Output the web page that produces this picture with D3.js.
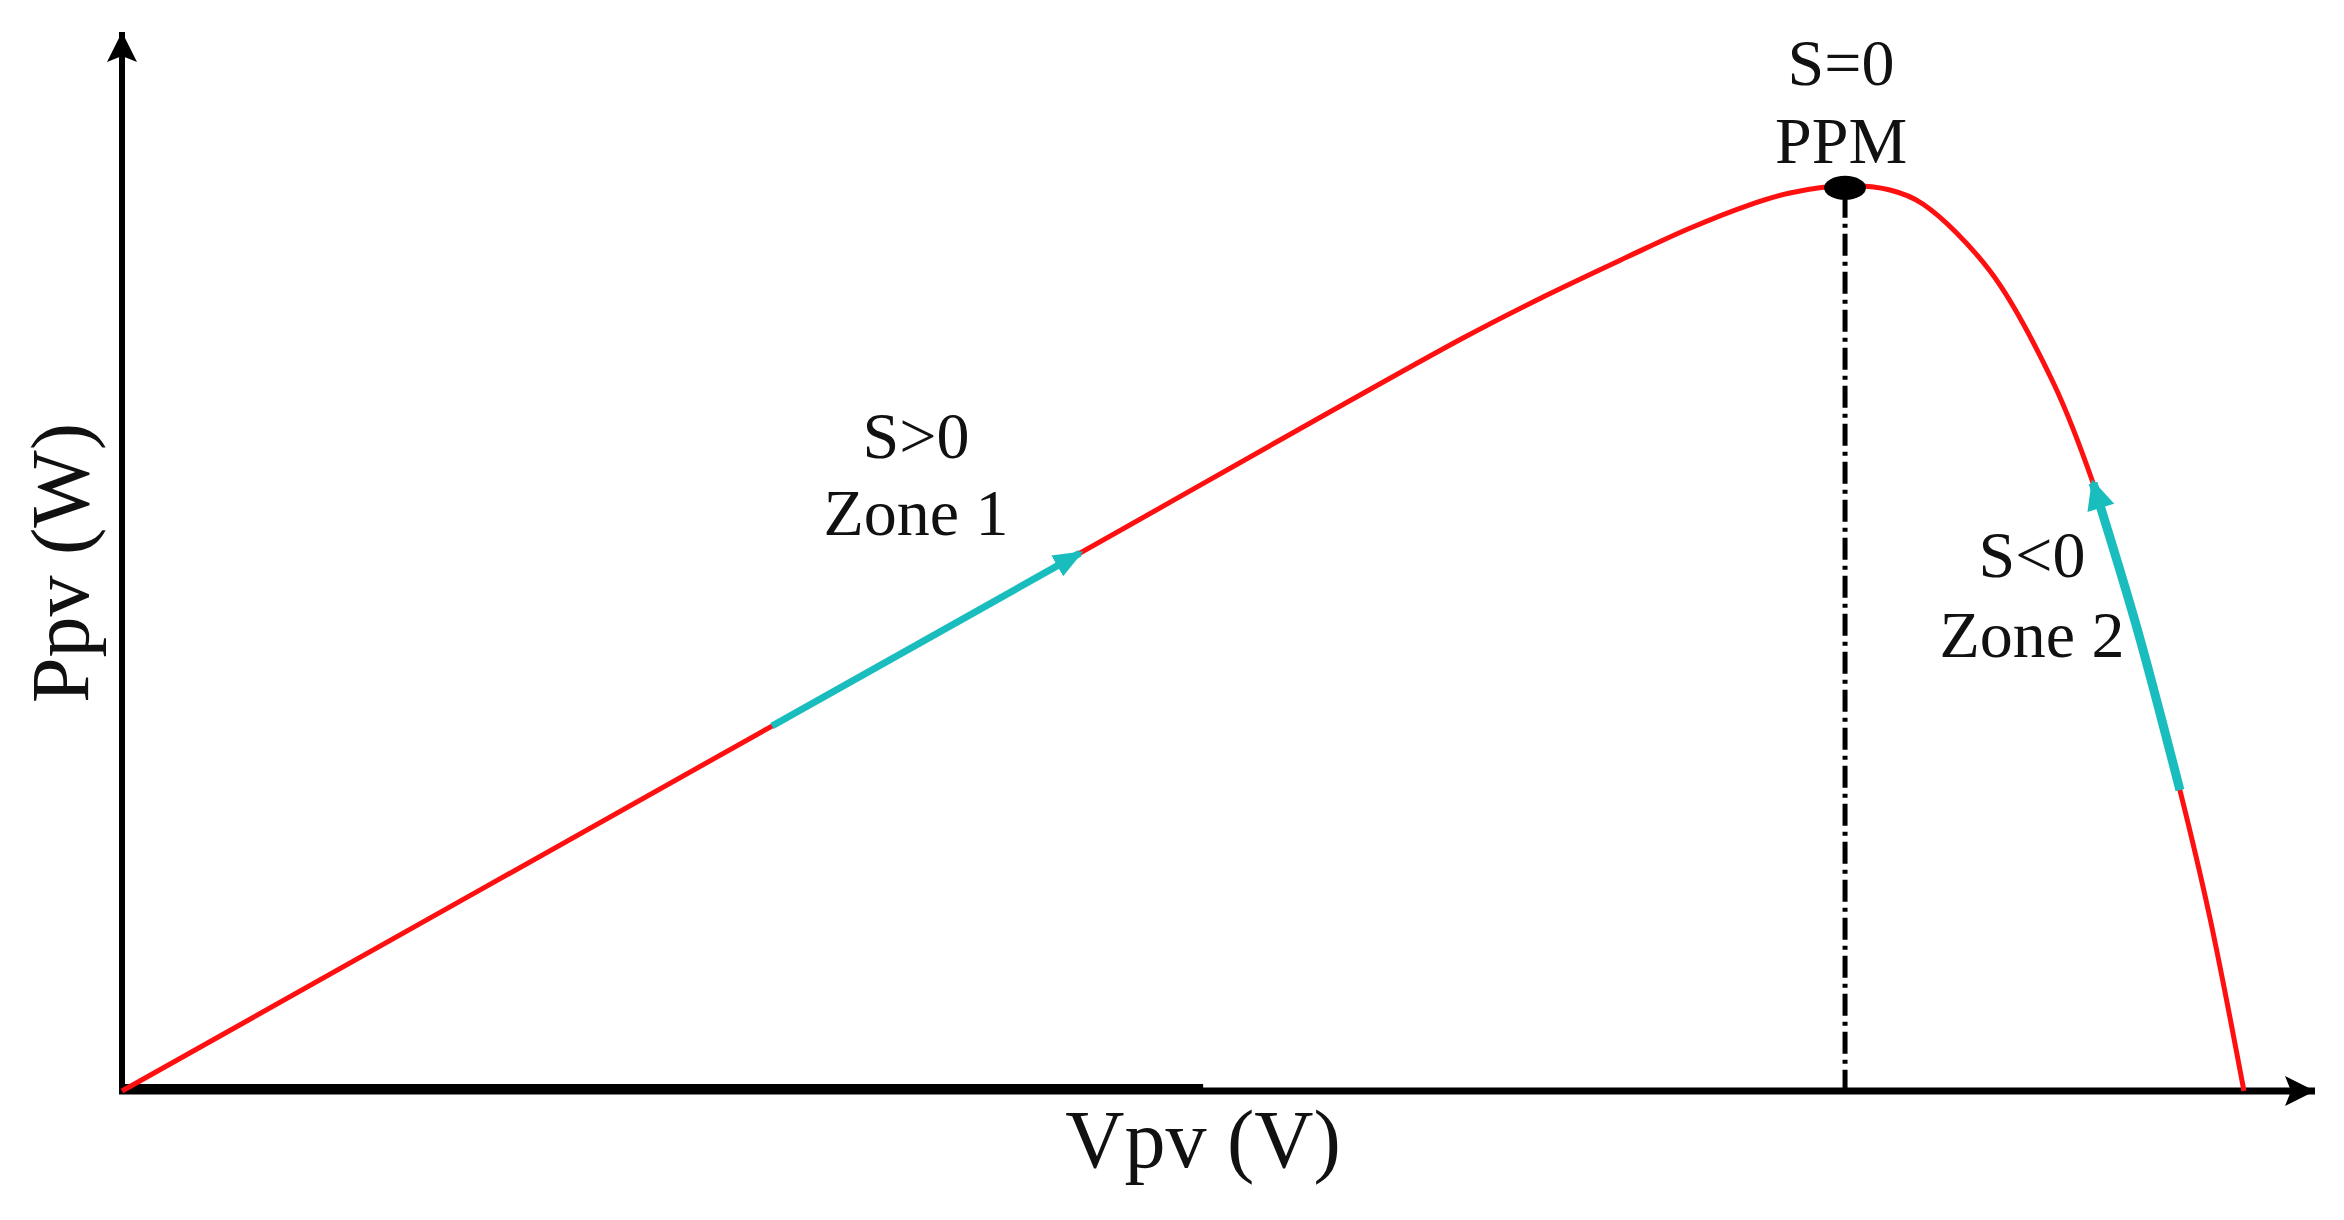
<!DOCTYPE html>
<html>
<head>
<meta charset="utf-8">
<script src="https://cdn.jsdelivr.net/npm/d3@7"></script>
<style>
  html, body { margin: 0; padding: 0; background: #fff; }
  text { font-family: "Liberation Serif", "DejaVu Serif", serif; fill: #111; }
</style>
</head>
<body>
<div id="chart"></div>
<script>
// P-V curve of the PV panel (arbitrary units)
const vpv = [0, 29.64, 43.68, 61.15, 64.89, 68.63, 71.41, 74.19, 76.06, 78.57, 80.62, 82.12, 85.18, 88.05, 89.88, 91.88, 93.84, 95.21, 96.76];
const ppv = [0, 34.46, 50.79, 71.10, 75.07, 78.75, 81.40, 83.66, 84.80, 85.47, 85.08, 83.76, 77.43, 66.95, 57.41, 43.72, 28.42, 16.34, 0];

// maximum power point
const mpp = { v: 78.57, p: 85.47 };

// cyan arrows along the curve (from -> to, in V)
const zone1Range = [29.64, 43.68];
const zone2Range = [93.84, 89.88];

// labels
const mppLabels = ["S=0", "PPM"];
const zone1Labels = ["S>0", "Zone 1"];
const zone2Labels = ["S<0", "Zone 2"];
const xTitle = "Vpv (V)";
const yTitle = "Ppv (W)";

document.addEventListener('DOMContentLoaded', function () {
    const W = 2344, H = 1220;

    const svg = d3.select("#chart").append("svg")
        .attr("width", W)
        .attr("height", H)
        .attr("viewBox", `0 0 ${W} ${H}`)
        .style("background-color", "#fff");

    // --- scales (no ticks on this sketch) ---
    const x = d3.scaleLinear().domain([0, 100]).range([122, 2315]);
    const y = d3.scaleLinear().domain([0, 100]).range([1091, 32]);

    const defs = svg.append("defs");
    defs.append("marker")
        .attr("id", "axisArrow")
        .attr("viewBox", "0 0 30 30")
        .attr("refX", 30).attr("refY", 15)
        .attr("markerWidth", 32).attr("markerHeight", 30)
        .attr("markerUnits", "userSpaceOnUse")
        .attr("orient", "auto")
        .append("path").attr("d", "M0,0 L30,15 L0,30 L6,15 Z").attr("fill", "#000");
    defs.append("marker")
        .attr("id", "cyanArrow1")
        .attr("viewBox", "0 0 30 24")
        .attr("refX", 26).attr("refY", 12)
        .attr("markerWidth", 30).attr("markerHeight", 24)
        .attr("markerUnits", "userSpaceOnUse")
        .attr("orient", "auto")
        .append("path").attr("d", "M0,0 L30,12 L0,24 Z").attr("fill", "#19bdbd");
    defs.append("marker")
        .attr("id", "cyanArrow2")
        .attr("viewBox", "0 0 30 28")
        .attr("refX", 26).attr("refY", 14)
        .attr("markerWidth", 32).attr("markerHeight", 28)
        .attr("markerUnits", "userSpaceOnUse")
        .attr("orient", "auto")
        .append("path").attr("d", "M0,0 L30,14 L0,28 Z").attr("fill", "#19bdbd");

    // --- axes ---
    const axes = svg.append("g").attr("class", "axes");
    axes.append("line")
        .attr("x1", x(0)).attr("y1", y(0))
        .attr("x2", x(0)).attr("y2", y(100))
        .attr("stroke", "#000").attr("stroke-width", 6)
        .attr("marker-end", "url(#axisArrow)");
    axes.append("line")
        .attr("x1", x(0) - 3).attr("y1", y(0))
        .attr("x2", x(100)).attr("y2", y(0))
        .attr("stroke", "#000").attr("stroke-width", 7)
        .attr("marker-end", "url(#axisArrow)");
    // heavier left half of the V axis as in the scan
    axes.append("line")
        .attr("x1", x(0) - 3).attr("y1", y(0) - 2)
        .attr("x2", x(49.3)).attr("y2", y(0) - 2)
        .attr("stroke", "#000").attr("stroke-width", 10);

    // --- curve ---
    const pts = vpv.map((v, i) => ({ v: v, p: ppv[i] }));
    const line = d3.line()
        .x(d => x(d.v))
        .y(d => y(d.p))
        .curve(d3.curveCatmullRom.alpha(0.5));

    svg.append("path")
        .datum(pts)
        .attr("fill", "none")
        .attr("stroke", "#ff1010")
        .attr("stroke-width", 5)
        .attr("d", line);

    // --- MPP drop line and dot ---
    svg.append("line")
        .attr("x1", x(mpp.v)).attr("y1", y(mpp.p) + 10)
        .attr("x2", x(mpp.v)).attr("y2", y(0))
        .attr("stroke", "#000").attr("stroke-width", 5)
        .attr("stroke-dasharray", "22 6 4 6");
    svg.append("ellipse")
        .attr("cx", x(mpp.v)).attr("cy", y(mpp.p) + 2)
        .attr("rx", 21).attr("ry", 12)
        .attr("fill", "#000");

    // --- cyan zone arrows ---
    function zoneSeg(range) {
        const lo = Math.min(range[0], range[1]), hi = Math.max(range[0], range[1]);
        const seg = pts.filter(d => d.v >= lo && d.v <= hi);
        return range[0] > range[1] ? seg.reverse() : seg;
    }
    const zoneLine = d3.line().x(d => x(d.v)).y(d => y(d.p));
    svg.append("path")
        .datum(zoneSeg(zone1Range))
        .attr("fill", "none").attr("stroke", "#19bdbd").attr("stroke-width", 7)
        .attr("d", zoneLine)
        .attr("marker-end", "url(#cyanArrow1)");
    svg.append("path")
        .datum(zoneSeg(zone2Range))
        .attr("fill", "none").attr("stroke", "#19bdbd").attr("stroke-width", 9)
        .attr("d", d3.line().x(d => x(d.v)).y(d => y(d.p)).curve(d3.curveCatmullRom.alpha(0.5)))
        .attr("marker-end", "url(#cyanArrow2)");

    // --- labels ---
    function twoLines(lines, cx, baselines, size) {
        const g = svg.append("g");
        g.selectAll("text").data(lines).join("text")
            .attr("x", cx)
            .attr("y", (d, i) => baselines[i])
            .attr("text-anchor", "middle")
            .attr("font-size", size)
            .text(d => d);
    }
    twoLines(mppLabels, x(mpp.v) - 4, [85, 163], 66);
    twoLines(zone1Labels, 916, [458, 535], 66);
    twoLines(zone2Labels, 2032, [577, 657], 66);

    svg.append("text")
        .attr("x", 1203).attr("y", 1167)
        .attr("text-anchor", "middle")
        .attr("font-size", 82)
        .text(xTitle);
    svg.append("text")
        .attr("transform", "translate(88,563) rotate(-90)")
        .attr("text-anchor", "middle")
        .attr("font-size", 82)
        .text(yTitle);
});
</script>
</body>
</html>
